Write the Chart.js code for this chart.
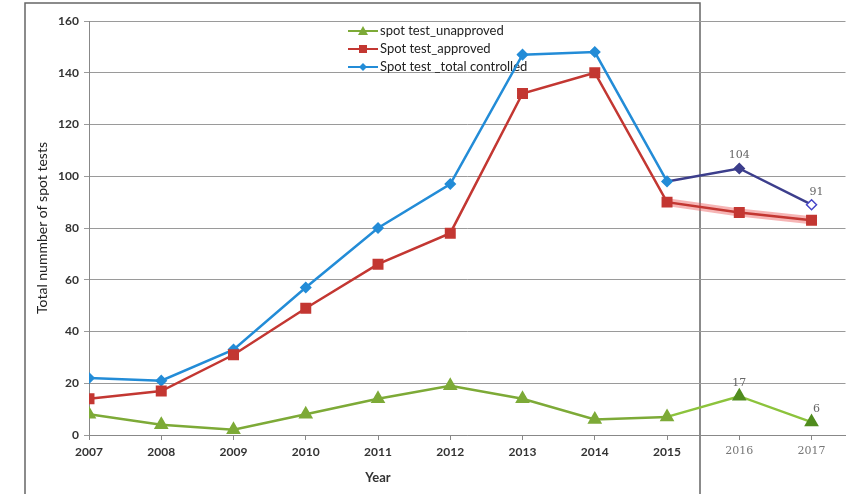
<!DOCTYPE html>
<html>
<head>
<meta charset="utf-8">
<script src="https://cdn.jsdelivr.net/npm/chart.js@4/dist/chart.umd.min.js"></script>
<style>
  html, body { margin: 0; padding: 0; background: #fff; }
  canvas { display: block; }
</style>
</head>
<body>
<canvas id="spotChart" width="854" height="494"></canvas>
<script>
// data
const years = [2007, 2008, 2009, 2010, 2011, 2012, 2013, 2014, 2015, 2016, 2017];
const unapproved = [8, 4, 2, 8, 14, 19, 14, 6, 7, 15, 5];
const approved = [14, 17, 31, 49, 66, 78, 132, 140, 90, 86, 83];
const totalControlled = [22, 21, 33, 57, 80, 97, 147, 148, 98, 103, 89];
const yTicks = [0, 20, 40, 60, 80, 100, 120, 140, 160];
const lastPrintedYear = 2015;
// handwritten notes: [year, series value it sits over, text]
const noteYears = [2016, 2017, 2016, 2017];
const noteValues = [103, 89, 15, 5];
const noteTexts = ['104', '91', '17', '6'];

const blue = 'rgb(35,140,215)';
const navy = 'rgb(60,62,140)';
const red = 'rgb(195,55,50)';
const green = 'rgb(125,170,55)';
const darkGreen = 'rgb(80,140,30)';
const font = 'Lato, "Open Sans", sans-serif';

const pts = (vals) => years.map((y, i) => ({ x: y, y: vals[i] }));
const laterIdx = years.indexOf(lastPrintedYear);

const framePlugin = {
  id: 'frame',
  beforeDraw(chart) {
    const c = chart.ctx;
    c.save();
    c.strokeStyle = '#666';
    c.lineWidth = 1.5;
    c.beginPath();
    c.moveTo(25, 494);
    c.lineTo(25, 3);
    c.lineTo(700, 3);
    c.lineTo(700, 494);
    c.stroke();
    c.restore();
  },
  beforeDatasetsDraw(chart) {
    // legend box
    const c = chart.ctx;
    const items = chart.data.datasets.filter(d => !d.hideInLegend);
    c.save();
    c.fillStyle = '#fff';
    c.fillRect(344, 23, 184, 48);
    c.font = '13px ' + font;
    c.textBaseline = 'middle';
    items.forEach((d, i) => {
      const y = 31 + i * 18;
      c.strokeStyle = d.borderColor;
      c.lineWidth = 2;
      c.beginPath();
      c.moveTo(348, y);
      c.lineTo(378, y);
      c.stroke();
      c.fillStyle = d.borderColor;
      c.beginPath();
      if (d.pointStyle === 'triangle') {
        c.moveTo(363, y - 5); c.lineTo(368, y + 4); c.lineTo(358, y + 4);
      } else if (d.pointStyle === 'rect') {
        c.rect(359, y - 4, 8, 8);
      } else {
        c.moveTo(363, y - 4); c.lineTo(367, y); c.lineTo(363, y + 4); c.lineTo(359, y);
      }
      c.fill();
      c.fillStyle = '#222';
      c.fillText(d.label, 380, y);
    });
    c.restore();
  },
  afterDraw(chart) {
    const c = chart.ctx;
    const xs = chart.scales.x, ys = chart.scales.y;
    c.save();
    // x axis title
    c.fillStyle = '#333';
    c.font = 'bold 13px ' + font;
    c.textAlign = 'center';
    const xMid = (xs.getPixelForValue(years[0]) + xs.getPixelForValue(lastPrintedYear)) / 2;
    c.fillText('Year', xMid, 482);
    // handwritten notes
    c.fillStyle = '#666';
    c.font = '11px "DejaVu Serif", serif';
    noteTexts.forEach((t, i) => {
      c.fillText(t, xs.getPixelForValue(noteYears[i]) + (noteYears[i] === 2017 ? 5 : 0),
        ys.getPixelForValue(noteValues[i]) - 10);
    });
    c.restore();
  }
};

new Chart(document.getElementById('spotChart'), {
  type: 'line',
  data: {
    datasets: [
      {
        label: 'spot test_unapproved',
        data: pts(unapproved),
        borderColor: green,
        backgroundColor: green,
        borderWidth: 2.5,
        pointStyle: 'triangle',
        pointRadius: 6,
        pointBackgroundColor: (ctx) => ctx.dataIndex > laterIdx ? darkGreen : green,
        pointBorderColor: (ctx) => ctx.dataIndex > laterIdx ? darkGreen : green,
        segment: { borderColor: (ctx) => ctx.p0DataIndex >= laterIdx ? 'rgb(140,195,60)' : green }
      },
      {
        label: 'Spot test_approved',
        data: pts(approved),
        borderColor: red,
        backgroundColor: red,
        borderWidth: 2.5,
        pointStyle: 'rect',
        pointRadius: 6,
        pointBorderColor: red,
        pointBackgroundColor: red
      },
      {
        label: 'Spot test _total controlled',
        data: pts(totalControlled),
        borderColor: blue,
        backgroundColor: blue,
        borderWidth: 2.5,
        pointStyle: 'rectRot',
        pointRadius: 5,
        pointBorderWidth: 1.5,
        pointBackgroundColor: (ctx) => ctx.dataIndex === years.length - 1 ? '#fff' : (ctx.dataIndex > laterIdx ? navy : blue),
        pointBorderColor: (ctx) => ctx.dataIndex === years.length - 1 ? 'rgb(70,70,200)' : (ctx.dataIndex > laterIdx ? navy : blue),
        segment: { borderColor: (ctx) => ctx.p0DataIndex >= laterIdx ? navy : blue }
      },
      {
        label: 'approved (highlight)',
        hideInLegend: true,
        data: pts(approved.map((v, i) => i >= laterIdx ? v : null)),
        borderColor: 'rgba(235,90,90,0.45)',
        borderWidth: 8,
        pointRadius: 0,
        order: 5
      }
    ]
  },
  options: {
    responsive: false,
    animation: false,
    layout: { padding: { left: 30, top: 21, right: 4, bottom: 0 } },
    plugins: {
      legend: { display: false },
      tooltip: { enabled: false }
    },
    scales: {
      x: {
        type: 'linear',
        min: 2007,
        max: 2017.47,
        afterFit: (s) => { s.height = 59; },
        border: { color: '#888', width: 1 },
        grid: { drawOnChartArea: false, drawTicks: true, tickLength: 5, color: '#888' },
        ticks: {
          stepSize: 1,
          includeBounds: false,
          padding: 5,
          callback: (v) => String(v),
          color: (ctx) => ctx.tick && ctx.tick.value > lastPrintedYear ? '#777' : '#333',
          font: (ctx) => ctx.tick && ctx.tick.value > lastPrintedYear
            ? { family: '"DejaVu Serif", serif', size: 11 }
            : { family: font, size: 12, weight: 'bold' }
        }
      },
      y: {
        min: 0,
        max: 160,
        afterFit: (s) => { s.width = 59; },
        afterBuildTicks: (s) => { s.ticks = yTicks.map(v => ({ value: v })); },
        border: { color: '#888', width: 1 },
        grid: { color: '#9a9a9a', lineWidth: 1, tickLength: 5 },
        ticks: { color: '#333', padding: 5, font: { family: font, size: 12, weight: 'bold' } },
        title: {
          display: true,
          text: 'Total nummber of spot tests',
          color: '#222',
          padding: { top: 4, bottom: 0 },
          font: { family: font, size: 14 }
        }
      }
    }
  },
  plugins: [framePlugin]
});
</script>
</body>
</html>
